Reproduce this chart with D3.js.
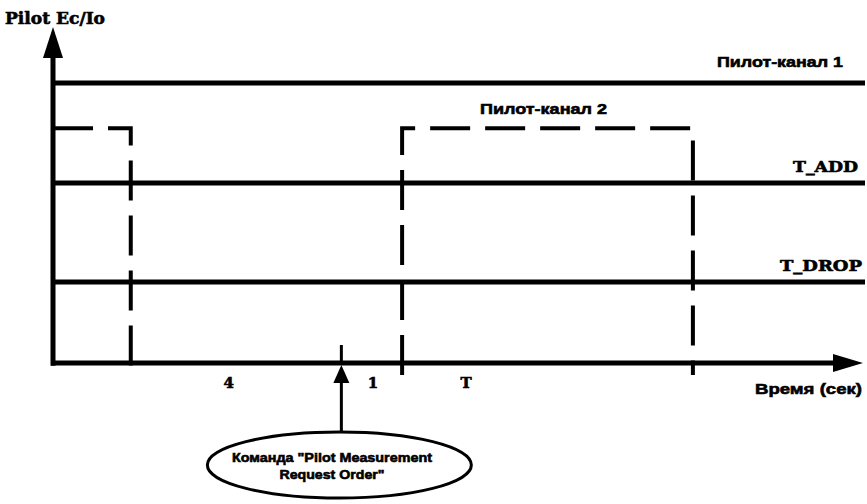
<!DOCTYPE html>
<html>
<head>
<meta charset="utf-8">
<script src="https://cdn.jsdelivr.net/npm/d3@7"></script>
<style>
  body { margin: 0; background: #fff; }
  svg { display: block; }
  text { stroke: #000; stroke-width: 0.6; }
</style>
</head>
<body>
<script>
// levels (y, 0..100) and events on the time axis (x, 0..100)
const levelNames = ['Пилот-канал 1', 'T_ADD', 'T_DROP'];
const levelValues = [83.3, 53.6, 24.1];
const pilot2Level = 69.9;
const pilot2Label = 'Пилот-канал 2';
const dropTime = 9.6;     // pilot 2 disappears
const commandTime = 35.6; // Pilot Measurement Request Order
const riseTime = 43.1;    // pilot 2 comes back
const endTime = 79.0;     // pilot 2 drops again
const intervalLabels = ['4', '1', 'T'];
const intervalPos = [21.7, 39.5, 51.0];
const commandText = ['Команда "Pilot Measurement', 'Request Order"'];

const width = 867, height = 504;

const x = d3.scaleLinear().domain([0, 100]).range([53, 863]);
const y = d3.scaleLinear().domain([0, 100]).range([363, 27]);

const svg = d3.select('body').append('svg')
  .attr('width', width)
  .attr('height', height);

const sans = '"Liberation Sans", Arial, sans-serif';
const serif = '"DejaVu Serif", "Liberation Serif", serif';

// horizontal levels
svg.selectAll('line.level')
  .data(levelValues)
  .join('line')
  .attr('class', 'level')
  .attr('x1', x(0)).attr('x2', x(100) + 2)
  .attr('y1', d => y(d)).attr('y2', d => y(d))
  .attr('stroke', '#000').attr('stroke-width', 5);

// level labels on the right
const labelEnds = [843, 858, 862];
const labelWidths = [126, 65, 82];
levelNames.forEach((name, i) => {
  const isSerif = name.startsWith('T_');
  svg.append('text')
    .attr('x', labelEnds[i] - labelWidths[i])
    .attr('y', y(levelValues[i]) - (isSerif ? 11 : 16))
    .attr('font-family', isSerif ? serif : sans)
    .attr('font-weight', 'bold')
    .attr('font-size', 15)
    .attr('textLength', labelWidths[i])
    .attr('lengthAdjust', 'spacingAndGlyphs')
    .text(name);
});

// pilot channel 2, dashed
const below = -3.6;
const dash = '40,15';
const pilot2a = [[0, pilot2Level], [dropTime, pilot2Level], [dropTime, below]];
const pilot2b = [[riseTime, below], [riseTime, pilot2Level], [endTime, pilot2Level], [endTime, below]];
const line = d3.line().x(d => x(d[0])).y(d => y(d[1]));
[pilot2a, pilot2b].forEach(pts => {
  svg.append('path')
    .attr('d', line(pts))
    .attr('fill', 'none')
    .attr('stroke', '#000')
    .attr('stroke-width', 4)
    .attr('stroke-dasharray', dash);
});

svg.append('text')
  .attr('x', 480).attr('y', y(pilot2Level) - 14)
  .attr('font-family', sans).attr('font-weight', 'bold').attr('font-size', 15)
  .attr('textLength', 127).attr('lengthAdjust', 'spacingAndGlyphs')
  .text(pilot2Label);

// axes
svg.append('line')
  .attr('x1', x(0)).attr('x2', x(0))
  .attr('y1', y(-0.8)).attr('y2', y(95))
  .attr('stroke', '#000').attr('stroke-width', 5);
svg.append('path')
  .attr('d', `M${x(0)},${y(100)} L${x(0) - 10},${y(90.8)} L${x(0) + 10},${y(90.8)} Z`)
  .attr('fill', '#000');

svg.append('line')
  .attr('x1', x(0) - 2).attr('x2', x(97))
  .attr('y1', y(0)).attr('y2', y(0))
  .attr('stroke', '#000').attr('stroke-width', 5);
svg.append('path')
  .attr('d', `M${x(100)},${y(0)} L${x(96.3)},${y(0) - 9} L${x(96.3)},${y(0) + 9} Z`)
  .attr('fill', '#000');

svg.append('text')
  .attr('x', 5).attr('y', 24)
  .attr('font-family', serif).attr('font-weight', 'bold').attr('font-size', 16)
  .attr('textLength', 100).attr('lengthAdjust', 'spacingAndGlyphs')
  .text('Pilot Ec/Io');

svg.append('text')
  .attr('x', 862).attr('y', y(0) + 31)
  .attr('text-anchor', 'end')
  .attr('font-family', sans).attr('font-weight', 'bold').attr('font-size', 15)
  .attr('textLength', 107).attr('lengthAdjust', 'spacingAndGlyphs')
  .text('Время (сек)');

// interval labels
svg.selectAll('text.interval')
  .data(intervalLabels)
  .join('text')
  .attr('class', 'interval')
  .attr('x', (d, i) => x(intervalPos[i]))
  .attr('y', y(0) + 25)
  .attr('text-anchor', 'middle')
  .attr('font-family', serif).attr('font-weight', 'bold').attr('font-size', 15)
  .text(d => d);

// command marker
const cx = x(commandTime);
svg.append('line')
  .attr('x1', cx).attr('x2', cx)
  .attr('y1', y(0) - 18).attr('y2', y(0))
  .attr('stroke', '#000').attr('stroke-width', 3);
svg.append('path')
  .attr('d', `M${cx},${y(0) + 2} L${cx - 8},${y(0) + 20} L${cx + 8},${y(0) + 20} Z`)
  .attr('fill', '#000');
svg.append('line')
  .attr('x1', cx).attr('x2', cx)
  .attr('y1', y(0) + 20).attr('y2', 432)
  .attr('stroke', '#000').attr('stroke-width', 3);

svg.append('ellipse')
  .attr('cx', cx - 2).attr('cy', 465)
  .attr('rx', 132).attr('ry', 33)
  .attr('fill', '#fff').attr('stroke', '#000').attr('stroke-width', 3);

const widths = [200, 105];
commandText.forEach((t, i) => {
  svg.append('text')
    .attr('x', 332).attr('y', 462 + i * 17)
    .attr('text-anchor', 'middle')
    .attr('font-family', sans).attr('font-weight', 'bold').attr('font-size', 13)
    .attr('textLength', widths[i]).attr('lengthAdjust', 'spacingAndGlyphs')
    .text(t);
});
</script>
</body>
</html>
